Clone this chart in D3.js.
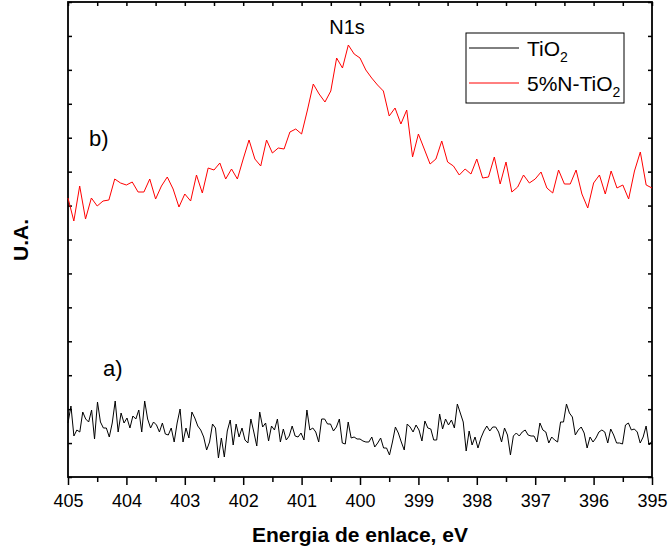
<!DOCTYPE html>
<html>
<head>
<meta charset="utf-8">
<script src="https://cdn.jsdelivr.net/npm/d3@7"></script>
<style>
  body { margin: 0; background: #fff; }
  text { font-family: Arial, "Liberation Sans", sans-serif; fill: #000; }
</style>
</head>
<body>
<div id="chart"></div>
<script>
// XPS N1s, intensidad en u.a. (lectura de la figura)
var series = ["TiO2", "5%N-TiO2"];

// 5%N-TiO2, paso 0.1 eV de 405 a 395
var intensidadN = [279,256,291,258,279,271,276,277,298,294,
  292,295,285,285,298,278,291,300,288,270,
  283,276,302,284,309,307,314,298,308,298,
  318,337,318,311,337,324,329,328,345,348,
  343,367,393,383,375,386,419,409,432,423,
  419,407,399,392,386,361,369,353,367,320,
  343,328,313,318,336,315,311,302,308,303,
  318,299,300,320,293,315,285,290,302,294,
  298,305,289,284,307,293,293,307,283,269,
  294,302,283,306,289,292,278,306,325,292,289];

// TiO2, barrido más fino de 405 a 395
var intensidadTi = [54,71,41,47,45,65,58,55,67,38,
  75,55,49,49,40,54,76,45,64,54,
  59,49,61,58,67,45,76,58,49,55,
  52,45,54,43,42,49,35,54,68,35,
  49,39,65,59,51,47,40,27,35,53,
  49,19,39,20,46,57,32,53,40,49,
  37,34,58,45,31,65,50,54,36,51,
  47,58,35,48,37,41,51,41,40,44,
  37,67,47,49,45,35,58,58,53,53,
  46,50,58,34,33,55,39,40,38,38,
  36,35,35,40,30,34,39,29,29,22,
  35,50,44,35,27,53,50,45,52,47,
  36,56,49,48,37,37,63,48,58,52,
  57,49,73,64,55,26,46,32,40,29,
  39,46,51,46,50,50,45,35,49,42,
  22,41,44,41,45,47,42,41,41,35,
  54,47,45,34,40,37,35,55,55,73,
  64,60,42,47,50,44,29,40,35,39,
  45,47,45,34,48,42,34,34,33,52,
  54,47,48,45,34,40,51,32,36];

var xTicks = [405, 404, 403, 402, 401, 400, 399, 398, 397, 396, 395];

var energiaN = intensidadN.map(function(d, i) { return 405 - i * 10 / (intensidadN.length - 1); });
var energiaTi = intensidadTi.map(function(d, i) { return 405 - i * 10 / (intensidadTi.length - 1); });

var width = 668, height = 550;
var mLeft = 68, mRight = 652, mTop = 2, mBottom = 477;

var svg = d3.select("#chart").append("svg")
    .attr("width", width)
    .attr("height", height);

var x = d3.scaleLinear().domain([405, 395]).range([mLeft, mRight]);
var y = d3.scaleLinear().domain([0, 475]).range([mBottom, mTop]);

var yTicks = d3.range(0, 15).map(function(k) { return k * 475 / 14; });
var halfTicks = d3.range(0, 21).map(function(k) { return 405 - k * 0.5; });

// eje inferior: mayores con etiqueta y menores
svg.append("g")
    .attr("transform", "translate(0," + mBottom + ")")
    .call(d3.axisBottom(x).tickValues(halfTicks.filter(function(d) { return d % 1 !== 0; }))
      .tickSize(5).tickFormat(""))
    .call(function(g) { g.select(".domain").remove(); });

var xAxis = svg.append("g")
    .attr("transform", "translate(0," + mBottom + ")")
    .call(d3.axisBottom(x).tickValues(xTicks).tickSize(8).tickPadding(9)
      .tickFormat(d3.format("d")));
xAxis.select(".domain").remove();
xAxis.selectAll("text").attr("font-size", 18).style("font-family", "Arial, 'Liberation Sans', sans-serif");

// ticks hacia dentro en los otros lados
svg.append("g")
    .attr("transform", "translate(0," + mTop + ")")
    .call(d3.axisTop(x).tickValues(halfTicks).tickSize(-4).tickFormat(""))
    .call(function(g) { g.select(".domain").remove(); });

svg.append("g")
    .attr("transform", "translate(" + mLeft + ",0)")
    .call(d3.axisLeft(y).tickValues(yTicks).tickSize(-4).tickFormat(""))
    .call(function(g) { g.select(".domain").remove(); });

svg.append("g")
    .attr("transform", "translate(" + mRight + ",0)")
    .call(d3.axisRight(y).tickValues(yTicks).tickSize(-4).tickFormat(""))
    .call(function(g) { g.select(".domain").remove(); });

svg.selectAll(".tick line").attr("stroke", "#000").attr("stroke-width", 1.5);

// marco
svg.append("rect")
    .attr("x", mLeft)
    .attr("y", mTop)
    .attr("width", mRight - mLeft)
    .attr("height", mBottom - mTop)
    .attr("fill", "none")
    .attr("stroke", "#000")
    .attr("stroke-width", 1.8);

var lineN = d3.line()
    .x(function(d, i) { return x(energiaN[i]); })
    .y(function(d) { return y(d); });

var lineTi = d3.line()
    .x(function(d, i) { return x(energiaTi[i]); })
    .y(function(d) { return y(d); });

svg.append("path")
    .datum(intensidadTi)
    .attr("fill", "none")
    .attr("stroke", "#000")
    .attr("stroke-width", 1)
    .attr("d", lineTi);

svg.append("path")
    .datum(intensidadN)
    .attr("fill", "none")
    .attr("stroke", "#ff0000")
    .attr("stroke-width", 1)
    .attr("d", lineN);

// textos
svg.append("text")
    .attr("x", 347)
    .attr("y", 34)
    .attr("text-anchor", "middle")
    .attr("font-size", 20)
    .text("N1s");

svg.append("text")
    .attr("x", 89)
    .attr("y", 146)
    .attr("font-size", 22)
    .text("b)");

svg.append("text")
    .attr("x", 103)
    .attr("y", 376)
    .attr("font-size", 22)
    .text("a)");

svg.append("text")
    .attr("x", (mLeft + mRight) / 2)
    .attr("y", 542)
    .attr("text-anchor", "middle")
    .attr("font-size", 21)
    .attr("font-weight", "bold")
    .text("Energia de enlace, eV");

svg.append("text")
    .attr("transform", "translate(28,240) rotate(-90)")
    .attr("text-anchor", "middle")
    .attr("font-size", 21)
    .attr("font-weight", "bold")
    .text("U.A.");

// leyenda
var legend = svg.append("g");
legend.append("rect")
    .attr("x", 466)
    .attr("y", 33)
    .attr("width", 158)
    .attr("height", 70)
    .attr("fill", "#fff")
    .attr("stroke", "#000")
    .attr("stroke-width", 1);

var colores = ["#000", "#ff0000"];
var filas = legend.selectAll(".fila")
    .data(series)
    .enter()
    .append("g")
    .attr("class", "fila")
    .attr("transform", function(d, i) { return "translate(0," + (i * 35) + ")"; });

filas.append("line")
    .attr("x1", 469)
    .attr("x2", 519)
    .attr("y1", 48)
    .attr("y2", 48)
    .attr("stroke", function(d, i) { return colores[i]; })
    .attr("stroke-width", 1);

var etiquetas = filas.append("text")
    .attr("x", 527)
    .attr("y", 56)
    .attr("font-size", 21);
etiquetas.append("tspan").text(function(d) { return d.slice(0, -1); });
etiquetas.append("tspan")
    .attr("font-size", 14)
    .attr("dy", 6)
    .text("2");
</script>
</body>
</html>
